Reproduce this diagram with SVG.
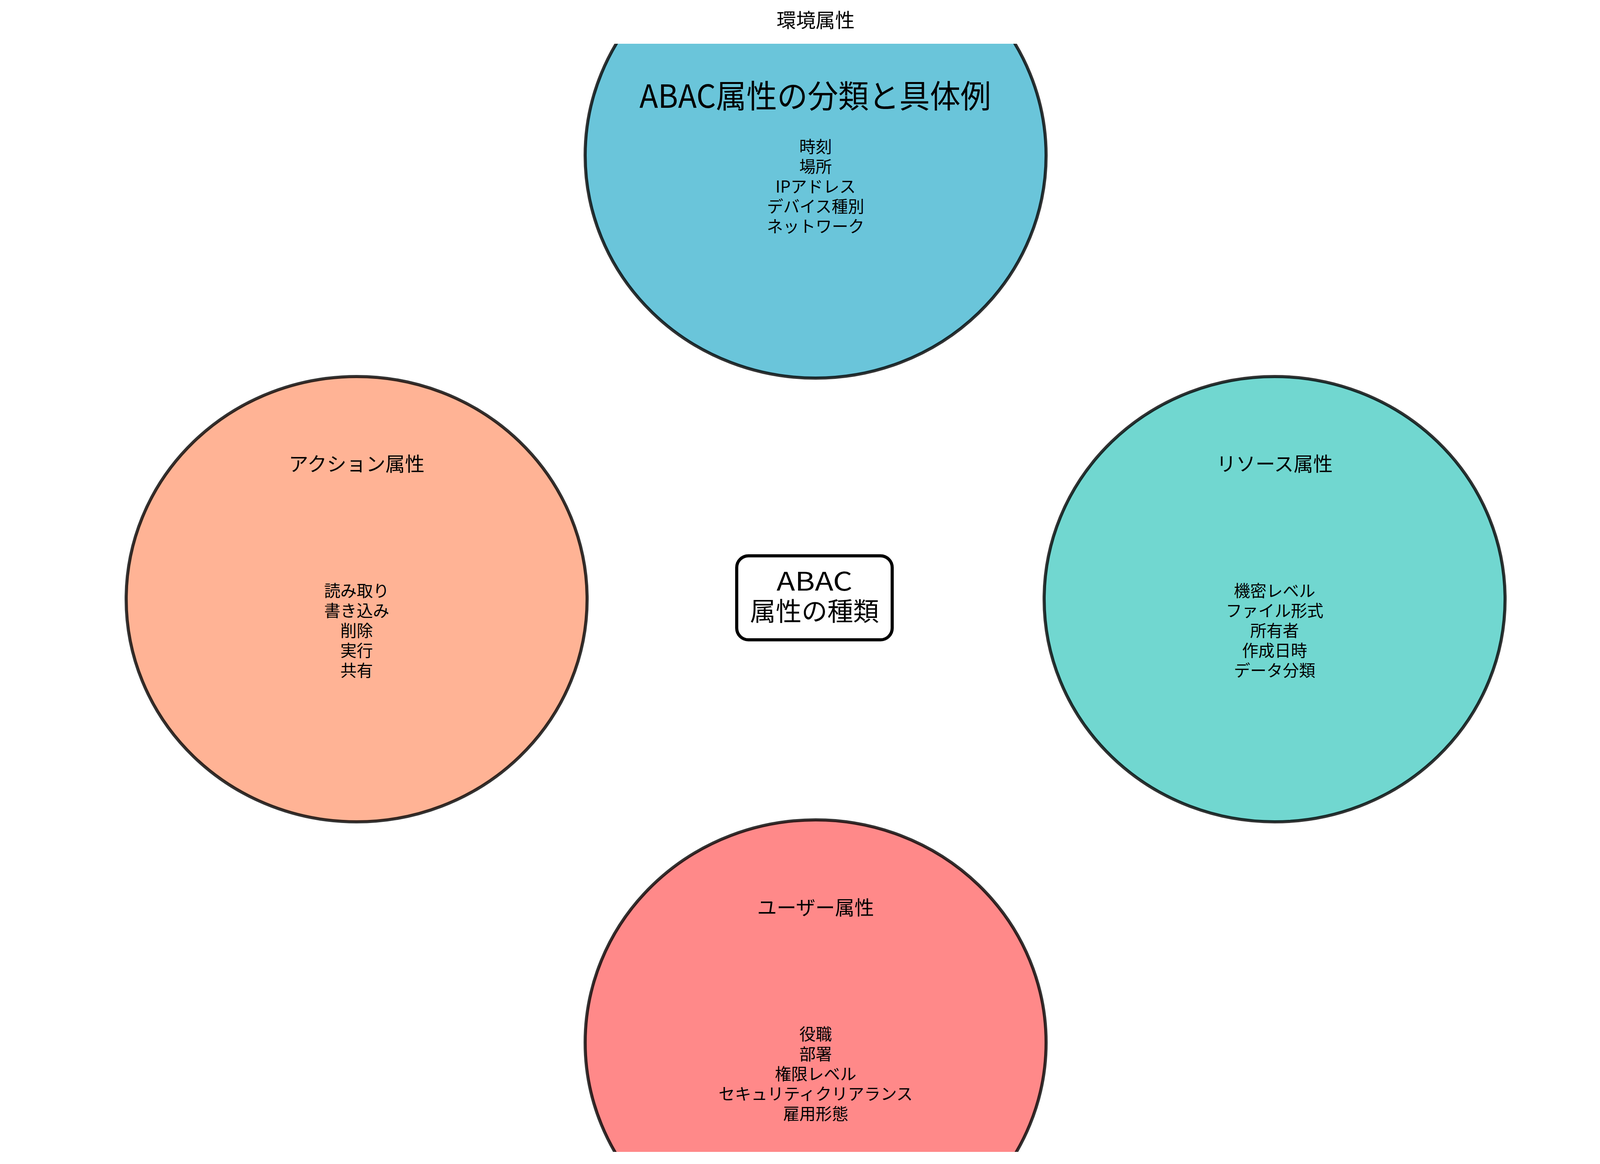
<svg xmlns="http://www.w3.org/2000/svg" width="4170" height="2980" viewBox="0 0 4170 2980">
  <defs>
    <clipPath id="axes">
      <rect x="0" y="112" width="4170" height="2837"/>
    </clipPath>
  </defs>
  <style>
    text { font-family: "Noto Sans CJK JP", "Noto Sans", sans-serif; fill: #000; text-anchor: middle; }
    .blob { stroke: #000; stroke-opacity: 0.8; stroke-width: 8; }
    .label { font-size: 50px; }
    .item { font-size: 41.7px; }
    .title { font-size: 82px; }
    .center { font-size: 66px; }
  </style>
  <rect x="0" y="0" width="4170" height="2980" fill="#ffffff"/>

  <g id="env">
    <ellipse class="blob" cx="2088" cy="398" rx="590" ry="570" fill="#6AC5DA" clip-path="url(#axes)"/>
    <text class="label" x="2088" y="70">環境属性</text>
    <text class="item" x="2088" y="391">時刻<tspan x="2088" dy="51">場所</tspan><tspan x="2088" dy="51">IPアドレス</tspan><tspan x="2088" dy="51">デバイス種別</tspan><tspan x="2088" dy="51">ネットワーク</tspan></text>
  </g>

  <g id="action">
    <ellipse class="blob" cx="913" cy="1534" rx="590" ry="570" fill="#FFB395" clip-path="url(#axes)"/>
    <text class="label" x="913" y="1206">アクション属性</text>
    <text class="item" x="913" y="1528">読み取り<tspan x="913" dy="51">書き込み</tspan><tspan x="913" dy="51">削除</tspan><tspan x="913" dy="51">実行</tspan><tspan x="913" dy="51">共有</tspan></text>
  </g>

  <g id="resource">
    <ellipse class="blob" cx="3263" cy="1534" rx="590" ry="570" fill="#71D7D0" clip-path="url(#axes)"/>
    <text class="label" x="3263" y="1206">リソース属性</text>
    <text class="item" x="3263" y="1528">機密レベル<tspan x="3263" dy="51">ファイル形式</tspan><tspan x="3263" dy="51">所有者</tspan><tspan x="3263" dy="51">作成日時</tspan><tspan x="3263" dy="51">データ分類</tspan></text>
  </g>

  <g id="user">
    <ellipse class="blob" cx="2088" cy="2669" rx="590" ry="570" fill="#FF8989" clip-path="url(#axes)"/>
    <text class="label" x="2088" y="2342">ユーザー属性</text>
    <text class="item" x="2088" y="2663">役職<tspan x="2088" dy="51">部署</tspan><tspan x="2088" dy="51">権限レベル</tspan><tspan x="2088" dy="51">セキュリティクリアランス</tspan><tspan x="2088" dy="51">雇用形態</tspan></text>
  </g>

  <g id="title">
    <text class="title" x="2087" y="276" textLength="900" lengthAdjust="spacingAndGlyphs">ABAC属性の分類と具体例</text>
  </g>

  <g id="center">
    <rect x="1886" y="1423" width="398" height="215" rx="30" ry="30" fill="#ffffff" stroke="#000" stroke-width="8"/>
    <text class="center" x="2085" y="1512" textLength="194" lengthAdjust="spacingAndGlyphs">ABAC</text>
    <text class="center" x="2085" y="1589">属性の種類</text>
  </g>
</svg>
